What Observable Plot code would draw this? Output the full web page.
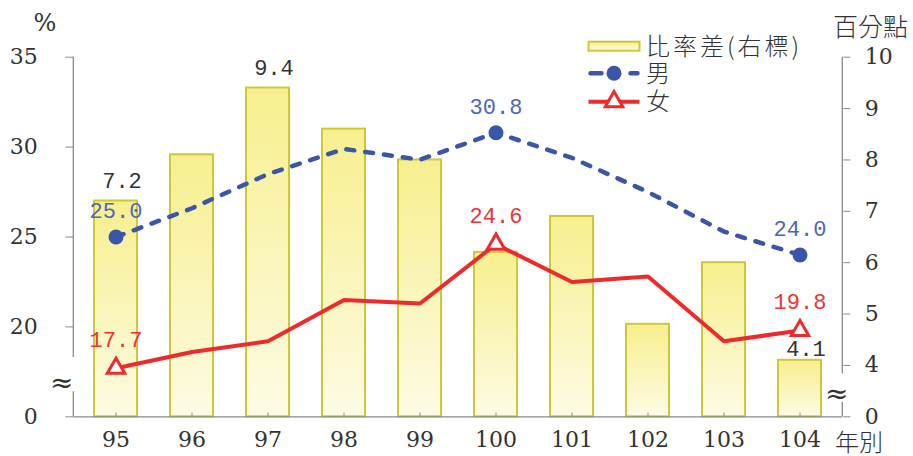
<!DOCTYPE html>
<html><head><meta charset="utf-8">
<script src="https://cdn.jsdelivr.net/npm/d3@7"></script>
<script src="https://cdn.jsdelivr.net/npm/@observablehq/plot@0.6"></script>
<style>body{margin:0;background:#fff} svg{display:block}</style>
</head><body><div id="chart"></div>
<script>
// ---- data ----
const years = ["95","96","97","98","99","100","101","102","103","104"];
const male = [25.0, 26.6, 28.5, 29.9, 29.3, 30.8, 29.4, 27.5, 25.3, 24.0];      // 男 (%), left axis
const female = [17.7, 18.6, 19.2, 21.5, 21.3, 24.6, 22.5, 22.8, 19.2, 19.8];    // 女 (%), left axis
const ratioDiff = [7.2, 8.1, 9.4, 8.6, 8.0, 6.2, 6.9, 4.8, 6.0, 4.1];           // 比率差 (百分點), right axis
const labeledYears = ["95","100","104"];
const diffLabelYears = ["95","97"];
const diffLabelLowYears = ["104"];
const leftTicks = [0, 20, 25, 30, 35];
const rightTicks = [0, 4, 5, 6, 7, 8, 9, 10];
const seriesNames = ["比率差(右標)", "男", "女"];
const leftUnit = "%", rightUnit = "百分點", xTitle = "年別";

// ---- broken axes: left shows 0 then 20..35 (break maps 0 -> 15); right shows 0 then 4..10 (0 -> 3) ----
const lp = v => v === 0 ? 15 : v;
const rp = v => v === 0 ? 15 : 15 + (v - 3) * 20 / 7;
const rpLabel = p => p === 15 ? "0" : String(Math.round(3 + (p - 15) * 7 / 20));

const rows = years.map((y, i) => ({year: y, male: male[i], female: female[i], diff: ratioDiff[i]}));
const labeled = rows.filter(d => labeledYears.includes(d.year));

const BLUE = "#3a56a8", RED = "#ee2a2a", BAR_STROKE = "#cdc834", AXIS = "#8a8a8a", TXT = "#333";
const MONO = "Liberation Mono", SERIF = "DejaVu Serif", CJK = "Noto Sans CJK TC";

const plot = Plot.plot({
  width: 913, height: 456,
  marginLeft: 73.3, marginRight: 70.7, marginTop: 56.7, marginBottom: 39.7,
  x: {type: "band", domain: years, paddingInner: 0.43, paddingOuter: 0.215, axis: null},
  y: {domain: [15, 35], axis: null},
  style: {fontFamily: SERIF, fontSize: "22px", color: TXT, background: "#fff", overflow: "visible"},
  marks: [
    Plot.barY(rows, {x: "year", y1: () => rp(0), y2: d => rp(d.diff), fill: "url(#barGrad)", stroke: BAR_STROKE, strokeWidth: 2}),
    Plot.ruleY([lp(0)], {stroke: AXIS, strokeWidth: 1.3}),
    Plot.ruleX(years, {x: d => d, y1: lp(0), y2: 15.2, stroke: AXIS}),
    Plot.axisX({anchor: "bottom", tickSize: 0, tickPadding: 15, fontFamily: SERIF, fontSize: 22, fill: TXT, label: null}),
    Plot.axisY(leftTicks.map(lp), {anchor: "left", tickSize: 8, tickPadding: 28, tickFormat: p => p === 15 ? "0" : String(p), stroke: AXIS, fill: TXT, fontSize: 22, label: null}),
    Plot.axisY(rightTicks.map(rp), {anchor: "right", tickSize: 7, tickPadding: 15, tickFormat: rpLabel, stroke: AXIS, fill: TXT, fontSize: 22, label: null}),
    Plot.line(rows, {x: "year", y: "female", stroke: RED, strokeWidth: 4, strokeLinejoin: "miter"}),
    Plot.line(rows, {x: "year", y: "male", stroke: BLUE, strokeWidth: 4.5, strokeDasharray: "8,11", strokeLinecap: "round"}),
    Plot.dot(labeled, {x: "year", y: "male", r: 7.5, fill: BLUE, stroke: "none"}),
    Plot.dot(labeled, {x: "year", y: "female", symbol: "triangle", r: 6.5, fill: "#fff", stroke: RED, strokeWidth: 3}),
    Plot.text(labeled, {x: "year", y: "male", text: d => d.male.toFixed(1), dy: -26, fill: "#4a67b8", fontFamily: MONO, fontSize: 22}),
    Plot.text(labeled, {x: "year", y: "female", text: d => d.female.toFixed(1), dy: -28.5, fill: "#ee3333", fontFamily: MONO, fontSize: 22}),
    Plot.text(rows.filter(d => diffLabelYears.includes(d.year)), {x: "year", y: d => rp(d.diff), text: d => d.diff.toFixed(1), dy: -20, dx: 6, fill: TXT, fontFamily: MONO, fontSize: 22}),
    Plot.text(rows.filter(d => diffLabelLowYears.includes(d.year)), {x: "year", y: d => rp(d.diff), text: d => d.diff.toFixed(1), dy: -11, dx: 6, fill: TXT, fontFamily: MONO, fontSize: 22})
  ]
});

document.getElementById("chart").appendChild(plot);

// ---- gradient, broken axis lines, break marks, titles, legend ----
const svg = d3.select(plot);
const defs = svg.insert("defs", ":first-child");
const g = defs.append("linearGradient").attr("id", "barGrad").attr("x1", 0).attr("y1", 0).attr("x2", 0).attr("y2", 1);
g.append("stop").attr("offset", "0%").attr("stop-color", "#f7ef8e");
g.append("stop").attr("offset", "100%").attr("stop-color", "#fdfbe4");

const ys = plot.scale("y");
const leftX = 73.3, rightX = 842.3;
const layer = svg.append("g").attr("text-anchor", "start");
[[35, 18.3], [16.4, 15]].forEach(([a, b]) => layer.append("line").attr("x1", leftX).attr("x2", leftX).attr("y1", ys.apply(a)).attr("y2", ys.apply(b)).attr("stroke", AXIS).attr("stroke-width", 1.3));
[[35, 17.4], [15.8, 15]].forEach(([a, b]) => layer.append("line").attr("x1", rightX).attr("x2", rightX).attr("y1", ys.apply(a)).attr("y2", ys.apply(b)).attr("stroke", AXIS).attr("stroke-width", 1.3));
layer.append("text").attr("x", 61.7).attr("y", ys.apply(16.9)).attr("dy", "0.35em").attr("text-anchor", "middle").attr("font-family", SERIF).attr("font-size", 28).attr("fill", TXT).text("≈");
layer.append("text").attr("x", 836.7).attr("y", ys.apply(16.3)).attr("dy", "0.35em").attr("text-anchor", "middle").attr("font-family", SERIF).attr("font-size", 28).attr("fill", TXT).text("≈");

layer.append("text").attr("x", 45).attr("y", 23).attr("dy", "0.35em").attr("text-anchor", "middle").attr("font-family", SERIF).attr("font-size", 24).attr("fill", TXT).text(leftUnit);
layer.append("text").attr("x", 833).attr("y", 27).attr("dy", "0.36em").attr("text-anchor", "start").attr("font-family", CJK).attr("font-weight", 300).attr("font-size", 25).attr("fill", TXT).text(rightUnit);
layer.append("text").attr("x", 835).attr("y", 442).attr("dy", "0.36em").attr("text-anchor", "start").attr("font-family", CJK).attr("font-weight", 300).attr("font-size", 24).attr("fill", TXT).text(xTitle);

// legend
const lg = layer.append("g").attr("font-family", CJK).attr("font-weight", 300).attr("font-size", 24).attr("fill", TXT).attr("text-anchor", "start");
const lx0 = 588.5, lx1 = 639.5, lmid = (lx0 + lx1) / 2, ltx = 646;
lg.append("rect").attr("x", lx0).attr("y", 41.7).attr("width", lx1 - lx0).attr("height", 9).attr("fill", "url(#barGrad)").attr("stroke", BAR_STROKE).attr("stroke-width", 2);
lg.append("line").attr("x1", lx0 + 2).attr("x2", lx1 - 2).attr("y1", 73.3).attr("y2", 73.3).attr("stroke", BLUE).attr("stroke-width", 4.5).attr("stroke-dasharray", "11,29").attr("stroke-linecap", "round");
lg.append("circle").attr("cx", lmid).attr("cy", 73.3).attr("r", 7.5).attr("fill", BLUE);
lg.append("line").attr("x1", lx0).attr("x2", lx1).attr("y1", 101.7).attr("y2", 101.7).attr("stroke", RED).attr("stroke-width", 4);
lg.append("path").attr("d", d3.symbol(d3.symbolTriangle, Math.PI * 6.5 * 6.5)()).attr("transform", `translate(${lmid},${101.7})`).attr("fill", "#fff").attr("stroke", RED).attr("stroke-width", 3);
[[46.2, seriesNames[0], 3], [73.3, seriesNames[1], 0], [101.7, seriesNames[2], 0]].forEach(([y, t, ls]) =>
  lg.append("text").attr("x", ltx).attr("y", y).attr("dy", "0.36em").attr("letter-spacing", ls).attr("text-anchor", "start").text(t));
</script>
</body></html>
